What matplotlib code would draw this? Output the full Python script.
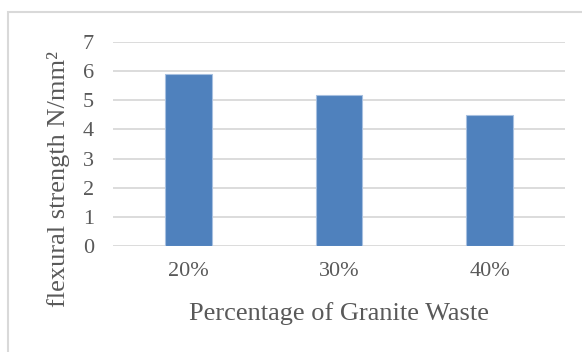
import matplotlib
matplotlib.use("Agg")
import matplotlib.pyplot as plt
from matplotlib.patches import Rectangle

categories = ["20%", "30%", "40%"]
strength = [5.90, 5.18, 4.51]
y_ticks = [0, 1, 2, 3, 4, 5, 6, 7]

plt.rcParams["font.family"] = ["Liberation Serif", "DejaVu Serif"]

W, H = 582, 352
fig = plt.figure(figsize=(W / 100, H / 100), dpi=100)

# chart frame like the Excel chart area border (cut off at right and bottom)
fig.patches.append(Rectangle((8 / W, -0.1), 1.2, (H - 12) / H + 0.1,
                             transform=fig.transFigure, fill=False,
                             edgecolor="#d9d9d9", linewidth=1.5))

ax = fig.add_axes([113.3 / W, 106.3 / H, 451.5 / W, 203.4 / H])

x = range(len(categories))
ax.bar(x, strength, width=0.31, color="#4f81bd", edgecolor="#a7c0e0",
       linewidth=0.8, zorder=3)

ax.set_xlim(-0.5, len(categories) - 0.5)
ax.set_ylim(0, 7)
ax.set_yticks(y_ticks)
ax.set_xticks(list(x))
ax.set_xticklabels(categories)

ax.grid(axis="y", color="#d9d9d9", linewidth=1.3, zorder=0)
for side in ["top", "right", "left", "bottom"]:
    ax.spines[side].set_visible(False)

ax.tick_params(axis="both", length=0, labelsize=16, labelcolor="#595959")
ax.tick_params(axis="y", pad=14)
ax.tick_params(axis="x", pad=12)

fig.text(339 / W, 32 / H, "Percentage of Granite Waste", ha="center",
         va="baseline", fontsize=19, color="#595959")
fig.text(59 / W, (H - 179) / H, "flexural strength N/mm\u00b2",
         rotation=90, ha="center", va="center", fontsize=19, color="#595959")

fig.savefig("out.png", dpi=100, facecolor="white")
